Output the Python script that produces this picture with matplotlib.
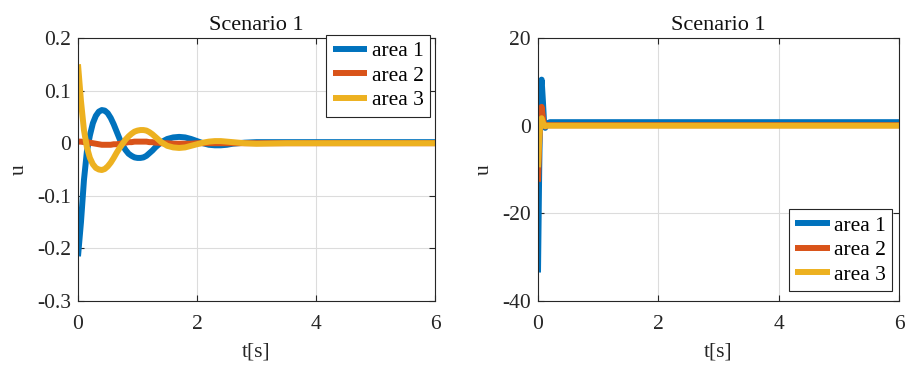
import matplotlib
matplotlib.use("Agg")
import matplotlib.pyplot as plt

plt.rcParams['font.family'] = ['Liberation Serif', 'DejaVu Serif']
plt.rcParams['axes.unicode_minus'] = False

# Left panel data
t_left = [0, 0.05, 0.1, 0.15, 0.2, 0.25, 0.3, 0.35, 0.4, 0.45, 0.5, 0.55, 0.6, 0.65, 0.7,
          0.75, 0.8, 0.85, 0.9, 0.95, 1.0, 1.05, 1.1, 1.15, 1.2, 1.25, 1.3, 1.35, 1.4,
          1.5, 1.6, 1.7, 1.8, 1.9, 2.0, 2.1, 2.2, 2.3, 2.4, 2.5, 2.6, 2.8, 3.0, 3.5,
          4.0, 5.0, 6.0]
u1_left = [-0.215, -0.15, -0.07, -0.015, 0.015, 0.038, 0.052, 0.060, 0.063, 0.062, 0.057,
           0.048, 0.036, 0.022, 0.008, -0.004, -0.013, -0.020, -0.024, -0.027, -0.028,
           -0.028, -0.027, -0.024, -0.019, -0.014, -0.008, -0.003, 0.002, 0.008, 0.011,
           0.012, 0.011, 0.008, 0.004, 0.000, -0.003, -0.004, -0.004, -0.003, -0.001,
           0.001, 0.002, 0.002, 0.002, 0.002, 0.002]
u2_left = [0.003, 0.003, 0.002, 0.002, 0.001, 0.000, -0.001, -0.002, -0.003, -0.003, -0.003,
           -0.003, -0.002, -0.002, -0.001, 0.000, 0.001, 0.002, 0.002, 0.003, 0.003,
           0.003, 0.003, 0.003, 0.002, 0.002, 0.001, 0.001, 0.000, 0.000, -0.001,
           -0.001, -0.001, -0.001, 0.000, 0.000, 0.000, 0.000, 0.000, 0.000, 0.000,
           0.000, 0.000, 0.000, 0.000, 0.000, 0.000]
u3_left = [0.150, 0.080, 0.025, -0.008, -0.028, -0.040, -0.047, -0.050, -0.051, -0.049,
           -0.044, -0.037, -0.028, -0.018, -0.009, -0.001, 0.007, 0.013, 0.018, 0.022,
           0.024, 0.025, 0.025, 0.024, 0.021, 0.017, 0.012, 0.007, 0.002, -0.005, -0.008,
           -0.009, -0.008, -0.005, -0.002, 0.001, 0.003, 0.004, 0.004, 0.003, 0.002,
           0.000, -0.001, 0.000, 0.000, 0.000, 0.000]

# Right panel data
t_right = [0, 0.02, 0.04, 0.06, 0.08, 0.1, 0.12, 0.15, 0.2, 0.3, 0.5, 1, 2, 3, 4, 5, 6]
u1_right = [-33.5, -10, 8, 10.5, 6, 1, -0.5, 0.5, 0.8, 0.8, 0.8, 0.8, 0.8, 0.8, 0.8, 0.8, 0.8]
u2_right = [-12.8, -4, 3, 4.3, 2, 0.3, -0.2, 0.1, 0.1, 0.1, 0.1, 0.1, 0.1, 0.1, 0.1, 0.1, 0.1]
u3_right = [-9.5, -3, 1, 1.7, 0.8, 0.0, -0.1, 0.0, 0.0, 0.0, 0.0, 0.0, 0.0, 0.0, 0.0, 0.0, 0.0]

labels = ['area 1', 'area 2', 'area 3']
colors = ['#0072BD', '#D95319', '#EDB120']
title = 'Scenario 1'

fig = plt.figure(figsize=(9.1, 3.67), dpi=100)
ax1 = fig.add_axes([78/910, 66/367, 357/910, 263/367])
ax2 = fig.add_axes([538/910, 66/367, 361/910, 263/367])

lw = 4.3
for ax, t, series in [(ax1, t_left, [u1_left, u2_left, u3_left]),
                      (ax2, t_right, [u1_right, u2_right, u3_right])]:
    for s, c, lab in zip(series, colors, labels):
        ax.plot(t, s, color=c, lw=lw, label=lab, solid_capstyle='butt')
    ax.set_xlim(0, 6)
    ax.set_xticks([0, 2, 4, 6])
    ax.grid(True, color='#dcdcdc', lw=0.8)
    ax.set_axisbelow(True)
    ax.tick_params(direction='in', top=True, right=True, labelsize=15.5, length=4,
                   color='#262626', labelcolor='#262626')
    ax.tick_params(axis='y', pad=5)
    ax.tick_params(axis='x', pad=10)
    for sp in ax.spines.values():
        sp.set_color('#262626')
        sp.set_linewidth(0.8)
    ax.set_title(title, fontsize=16, color='#111111', pad=6)
    ax.set_xlabel('t[s]', fontsize=15.5, color='#262626', labelpad=6)
    ax.set_ylabel('u', fontsize=15.5, color='#262626', labelpad=6)

ax1.set_ylim(-0.3, 0.2)
ax1.set_yticks([-0.3, -0.2, -0.1, 0, 0.1, 0.2])
ax1.set_yticklabels(['-0.3', '-0.2', '-0.1', '0', '0.1', '0.2'])
ax2.set_ylim(-40, 20)
ax2.set_yticks([-40, -20, 0, 20])

leg_kw = dict(fontsize=15.5, handlelength=1.6, handletextpad=0.2, borderpad=0.3,
              labelspacing=0.2, borderaxespad=0.0, fancybox=False, framealpha=1,
              edgecolor='#262626')
l1 = ax1.legend(loc='upper right', bbox_to_anchor=(0.986, 1.012), **leg_kw)
l2 = ax2.legend(loc='lower right', bbox_to_anchor=(0.981, 0.038), **leg_kw)
for l in (l1, l2):
    l.get_frame().set_linewidth(0.8)

fig.savefig('out.png', dpi=100)
